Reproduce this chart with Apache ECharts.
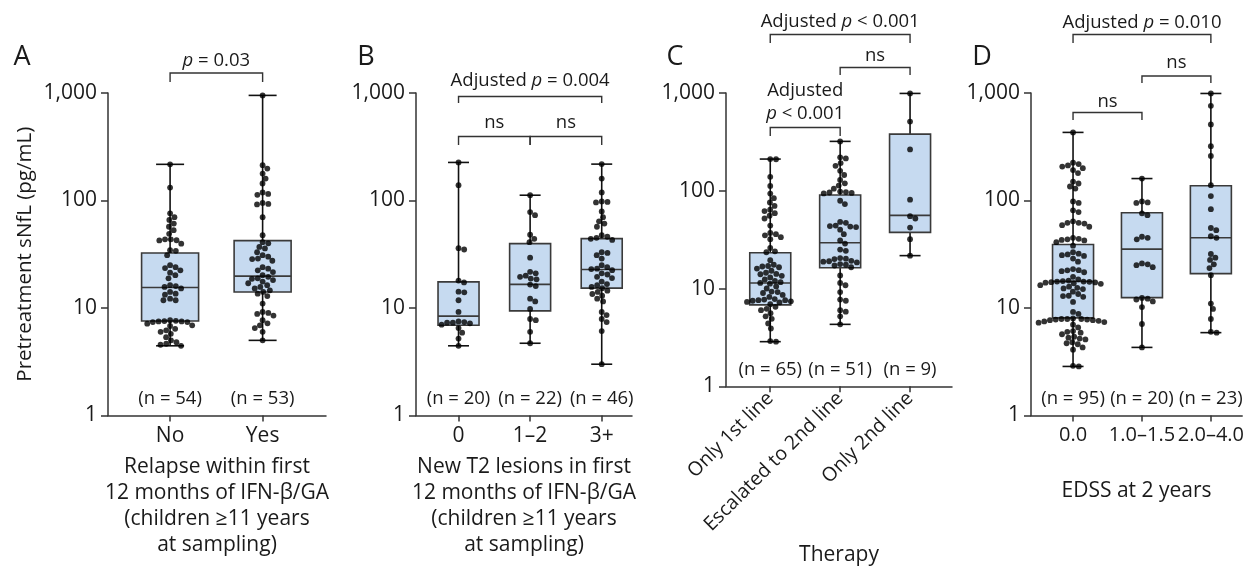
<!DOCTYPE html>
<html><head><meta charset="utf-8">
<script src="https://cdn.jsdelivr.net/npm/echarts@6/dist/echarts.min.js"></script>
<style>html,body{margin:0;padding:0;background:#fff}#c{width:1247px;height:573px}</style>
</head><body><div id="c"></div>
<script>
// ---------------- data ----------------
const catsA = ['No', 'Yes'];
const catsB = ['0', '1–2', '3+'];
const catsC = ['Only 1st line', 'Escalated to 2nd line', 'Only 2nd line'];
const catsD = ['0.0', '1.0–1.5', '2.0–4.0'];

const nA = [54, 53];
const nB = [20, 22, 46];
const nC = [65, 51, 9];
const nD = [95, 20, 23];

// box stats: [whisker low, Q1, median, Q3, whisker high] (pg/mL)
const boxA = [[4.45, 7.56, 15.5, 32.5, 217], [5.0, 14.1, 19.8, 42.3, 950]];
const boxB = [[4.45, 6.9, 8.4, 17.5, 226], [4.7, 9.4, 16.6, 39.7, 112], [3.0, 15.3, 22.8, 44.2, 218]];
const boxC = [[2.86, 6.8, 11.4, 23.2, 211], [4.3, 16.3, 29.4, 90.5, 320], [21.7, 37.5, 56, 380, 990]];
const boxD = [[2.86, 8.1, 17.7, 39, 430], [4.3, 12.5, 35.3, 77, 160], [5.9, 20.9, 45, 137, 990]];

// individual sNfL values (pg/mL)
const ptsA_no = [217, 132, 76, 70, 66, 61, 57, 53, 49, 43.5, 43.5, 42.7, 42.5, 39.7, 34.5, 34, 31, 25, 24, 23.5, 22.4, 21.3, 20.2, 18.9, 16.3, 16, 15.7, 15.2, 14.1, 13.6, 13.3, 12.2, 11.8, 11.8, 7.7, 7.6, 7.55, 7.5, 7.5, 7.4, 7.4, 7.15, 6.9, 6.8, 6.4, 6.2, 6.0, 5.75, 5.35, 5.0, 4.8, 4.65, 4.55, 4.45];
const ptsA_yes = [950, 213, 198, 178, 160, 144, 119, 115, 113, 95, 93, 92, 70, 47.5, 41, 40, 37, 35.8, 33, 31, 30, 28.8, 28.5, 27.5, 24, 23.2, 22.4, 21.6, 20.2, 19.5, 18.9, 18.7, 18.2, 17.6, 17, 16.3, 15.7, 15.2, 14.6, 14.1, 13.6, 12.9, 11, 9.2, 9, 8.8, 8.5, 7.7, 7.2, 6.9, 6.5, 6.0, 5.0];
const ptsB_0 = [226, 139, 36, 35, 18, 17.3, 14.2, 14, 11.8, 9.2, 7.5, 7.4, 7.3, 7.3, 7.2, 7.0, 6.5, 5.9, 5.2, 4.45];
const ptsB_12 = [112, 78, 73, 48, 44, 41, 29.4, 21.7, 21, 20, 19.5, 18.8, 18.5, 16.5, 16, 12.2, 11.5, 9.8, 7.9, 7.7, 6.0, 4.7];
const ptsB_3 = [218, 160, 119, 98, 97, 96, 79, 70, 64, 61, 57, 47.5, 46, 45, 44, 43, 33, 32.5, 31, 28.8, 25, 24, 23.2, 23, 22.5, 21, 20.5, 19.5, 19, 17.6, 16.7, 16.3, 15.7, 15.3, 14.5, 14.1, 13.5, 13, 12.2, 11.5, 9.2, 8.6, 7.9, 7.4, 6.1, 3.0];
const ptsC_1st = [211, 210, 139, 112, 93.5, 84, 76, 70, 64, 62, 59, 55.5, 52, 44, 37, 36, 35, 33.5, 32, 26, 24, 23.5, 19.5, 17.5, 17, 16.8, 16.5, 16, 15.2, 14.5, 14.1, 14, 13.5, 13, 12.4, 12, 11.6, 11.4, 11.2, 10.5, 10, 9.3, 9.2, 9.0, 8.6, 8.2, 7.8, 7.7, 7.6, 7.6, 7.5, 7.4, 7.3, 7.2, 6.9, 6.5, 6.2, 6.0, 5.6, 5.2, 4.9, 4.4, 3.9, 2.9, 2.86];
const ptsC_esc = [320, 220, 214, 192, 180, 160, 145, 129, 119, 113, 105, 98, 97, 96, 95, 94, 79, 73, 48, 47, 44, 43.5, 43, 42.5, 40, 36, 31, 28.8, 25, 24.3, 20.5, 20.2, 20, 19.2, 19, 18.8, 18.5, 17.8, 17.5, 17.2, 16.5, 13.6, 11.4, 10.8, 9.2, 7.7, 7.5, 6.0, 5.8, 5.2, 4.3];
const ptsC_2nd = [990, 510, 265, 81, 55, 52, 42, 32, 21.7];
const ptsD_0 = [430, 225, 218, 212, 207, 200, 192, 180, 150, 144, 135, 129, 98, 95, 81, 78, 64, 62, 62, 61, 59, 57, 45, 44, 43.5, 43, 42.5, 41, 38, 33, 32, 31.5, 31, 30.5, 28.8, 27, 23, 22.5, 22.4, 22, 21.5, 19.5, 18.5, 18, 17.8, 17.6, 17.6, 17.5, 17.4, 17.3, 17.2, 17, 16.8, 16.3, 15.8, 15.4, 15.2, 15, 14.2, 13.5, 13, 12.9, 12.7, 11.4, 9.2, 8.8, 8.0, 7.9, 7.9, 7.9, 7.8, 7.8, 7.7, 7.7, 7.6, 7.5, 7.4, 7.3, 7.0, 6.6, 6.1, 6.0, 5.9, 5.7, 5.4, 5.3, 5.2, 5.1, 4.8, 4.7, 4.6, 4.3, 4.1, 2.9, 2.86];
const ptsD_1 = [160, 98, 96, 95, 76, 73, 46, 45, 43.5, 26, 25.5, 25, 24, 12.4, 12.2, 12.0, 11.5, 10.2, 7.1, 4.3];
const ptsD_2 = [990, 760, 510, 320, 260, 139, 110, 83, 55.5, 53, 46.5, 45, 31.8, 29.4, 28, 25.5, 23.5, 20.2, 11, 9.8, 7.9, 6.0, 5.9];

// significance annotations (group indices + label)
const sigA = [{ from: 0, to: 1, text: '{i|p} = 0.03' }];
const sigB = [{ from: 0, to: 2, text: 'Adjusted {i|p} = 0.004' }, { from: 0, to: 1, text: 'ns' }, { from: 1, to: 2, text: 'ns' }];
const sigC = [{ from: 0, to: 2, text: 'Adjusted {i|p} < 0.001' }, { from: 1, to: 2, text: 'ns' }, { from: 0, to: 1, text: 'Adjusted\n{i|p} < 0.001' }];
const sigD = [{ from: 0, to: 2, text: 'Adjusted {i|p} = 0.010' }, { from: 1, to: 2, text: 'ns' }, { from: 0, to: 1, text: 'ns' }];

// ---------------- layout / style ----------------
const FONT = 'Open Sans';
const INK = '#1a1a1a';
const AX = '#333333';
const BOXFILL = '#c6daf0';
const BOXLINE = '#3a3a3a';

const panels = [
  { letter: 'A', letterXY: [22, 57], cats: catsA, n: nA, box: boxA, pts: [ptsA_no, ptsA_yes], sig: sigA,
    grid: { left: 108, right: 921, top: 93, bottom: 157.5 }, xmin: -0.671, xmax: 1.685, boxHalf: 28.5, capHalf: 14,
    xName: 'Relapse within first\n12 months of IFN-β/GA\n(children ≥11 years\nat sampling)', nameGap: 39, rotate: 0, labelSize: 21,
    sigPos: [{ lineY: 73, legY: 82, textY: 61 }] },
  { letter: 'B', letterXY: [366, 57], cats: catsB, n: nB, box: boxB, pts: [ptsB_0, ptsB_12, ptsB_3], sig: sigB,
    grid: { left: 416, right: 615, top: 93, bottom: 157.5 }, xmin: -0.594, xmax: 2.423, boxHalf: 20.5, capHalf: 10.5,
    xName: 'New T2 lesions in first\n12 months of IFN-β/GA\n(children ≥11 years\nat sampling)', nameGap: 39, rotate: 0, labelSize: 21,
    sigPos: [{ lineY: 96.5, legY: 103, textY: 81 }, { lineY: 136.5, legY: 145, textY: 123 }, { lineY: 136.5, legY: 145, textY: 123 }] },
  { letter: 'C', letterXY: [675, 57], cats: catsC, n: nC, box: boxC, pts: [ptsC_1st, ptsC_esc, ptsC_2nd], sig: sigC,
    grid: { left: 726, right: 295, top: 93, bottom: 157.5 }, xmin: -0.633, xmax: 2.6, boxHalf: 20.5, capHalf: 10.5,
    xName: 'Therapy', nameGap: 130, rotate: 45, labelSize: 19.5,
    sigPos: [{ lineY: 34.5, legY: 43, textY: 21.5 }, { lineY: 67.5, legY: 75, textY: 56 }, { lineY: 127.5, legY: 136, textY: 102.5 }] },
  { letter: 'D', letterXY: [982, 57], cats: catsD, n: nD, box: boxD, pts: [ptsD_0, ptsD_1, ptsD_2], sig: sigD,
    grid: { left: 1031, right: 1, top: 93, bottom: 157.5 }, xmin: -0.61, xmax: 2.454, boxHalf: 20.5, capHalf: 10.5,
    xName: 'EDSS at 2 years', nameGap: 63, rotate: 0, labelSize: 20,
    sigPos: [{ lineY: 34.5, legY: 43, textY: 22.5 }, { lineY: 76, legY: 83, textY: 63 }, { lineY: 112.5, legY: 120, textY: 102 }] }
];

const chart = echarts.init(document.getElementById('c'), null, { renderer: 'canvas' });

const grids = [], xAxes = [], yAxes = [], series = [], graphics = [];
panels.forEach((p, k) => {
  grids.push(Object.assign({ containLabel: false }, p.grid));
  const idx = p.cats.map((c, i) => i);
  xAxes.push({
    type: 'value', gridIndex: k, min: p.xmin, max: p.xmax,
    axisLine: { show: true, onZero: false, lineStyle: { color: AX, width: 1.5 } },
    axisTick: { show: true, customValues: idx, length: 6, lineStyle: { color: AX, width: 1.5 } },
    axisLabel: { show: true, customValues: idx, formatter: v => p.cats[Math.round(v)], fontSize: p.labelSize,
      fontFamily: FONT, color: INK, margin: p.rotate ? 9 : 10, rotate: p.rotate, hideOverlap: false,
      showMinLabel: true, showMaxLabel: true },
    splitLine: { show: false },
    name: p.xName, nameLocation: 'middle', nameGap: p.nameGap,
    nameTextStyle: { fontSize: 21, fontFamily: FONT, color: INK, lineHeight: 26 }
  });
  yAxes.push({
    type: 'log', logBase: 10, gridIndex: k, min: 1, max: 1000,
    axisLine: { show: true, onZero: false, lineStyle: { color: AX, width: 1.5 } },
    axisTick: { show: true, length: 7, lineStyle: { color: AX, width: 1.5 } },
    minorTick: { show: false },
    axisLabel: { fontSize: 21, fontFamily: FONT, color: INK, margin: 11, formatter: v => Number(v).toLocaleString('en-US') },
    splitLine: { show: false },
    name: k === 0 ? 'Pretreatment sNfL (pg/mL)' : '', nameLocation: 'middle', nameGap: 72,
    nameTextStyle: { fontSize: 20.5, fontFamily: FONT, color: INK }
  });
  // boxes + whiskers + n labels
  series.push({
    type: 'custom', xAxisIndex: k, yAxisIndex: k, z: 2, silent: true,
    data: p.box.map((b, i) => [i].concat(b)),
    encode: { x: 0, y: [1, 2, 3, 4, 5] },
    renderItem: (params, api) => {
      const g = api.value(0);
      const xc = api.coord([g, 10])[0];
      const y = [1, 2, 3, 4, 5].map(d => api.coord([g, api.value(d)])[1]);
      const bh = p.boxHalf, ch = p.capHalf;
      const lw = { stroke: '#111', lineWidth: 1.6 };
      const base = api.coord([g, 1])[1];
      return { type: 'group', children: [
        { type: 'line', shape: { x1: xc, y1: y[0], x2: xc, y2: y[1] }, style: lw },
        { type: 'line', shape: { x1: xc, y1: y[3], x2: xc, y2: y[4] }, style: lw },
        { type: 'line', shape: { x1: xc - ch, y1: y[0], x2: xc + ch, y2: y[0] }, style: lw },
        { type: 'line', shape: { x1: xc - ch, y1: y[4], x2: xc + ch, y2: y[4] }, style: lw },
        { type: 'rect', shape: { x: xc - bh, y: y[3], width: 2 * bh, height: y[1] - y[3] },
          style: { fill: BOXFILL, stroke: BOXLINE, lineWidth: 1.6 } },
        { type: 'line', shape: { x1: xc - bh, y1: y[2], x2: xc + bh, y2: y[2] }, style: { stroke: BOXLINE, lineWidth: 1.6 } },
        { type: 'text', style: { text: '(n = ' + p.n[params.dataIndex] + ')', x: xc, y: base - 17,
          align: 'center', verticalAlign: 'middle', fontSize: 18.5, fontFamily: FONT, fill: INK } }
      ] };
    }
  });
  // significance brackets
  series.push({
    type: 'custom', xAxisIndex: k, yAxisIndex: k, z: 4, silent: true,
    data: p.sig.map(s => [s.from, s.to, 10]),
    encode: { x: [0, 1], y: 2 },
    renderItem: (params, api) => {
      const s = p.sig[params.dataIndex], pos = p.sigPos[params.dataIndex];
      const x0 = api.coord([api.value(0), 10])[0], x1 = api.coord([api.value(1), 10])[0];
      return { type: 'group', children: [
        { type: 'polyline', shape: { points: [[x0, pos.legY], [x0, pos.lineY], [x1, pos.lineY], [x1, pos.legY]] },
          style: { stroke: AX, lineWidth: 1.4, fill: null } },
        { type: 'text', style: { text: s.text, x: (x0 + x1) / 2, y: pos.textY, align: 'center', verticalAlign: 'middle',
          fontSize: 18.5, fontFamily: FONT, fill: INK, lineHeight: 23,
          rich: { i: { fontStyle: 'italic', fontSize: 18.5, fontFamily: FONT, fill: INK, lineHeight: 23 } } } }
      ] };
    }
  });
  // points (x offsets set after layout by a beeswarm pass)
  series.push({
    id: 'pts' + k, type: 'scatter', xAxisIndex: k, yAxisIndex: k, z: 5, silent: true,
    symbol: 'circle', symbolSize: 5.8, itemStyle: { color: '#000' },
    data: []
  });
  graphics.push({ type: 'text', x: p.letterXY[0], y: p.letterXY[1],
    style: { text: p.letter, fontSize: 27, fontFamily: FONT, fill: INK, align: 'center', verticalAlign: 'middle' } });
});

chart.setOption({
  animation: false,
  textStyle: { fontFamily: FONT },
  grid: grids, xAxis: xAxes, yAxis: yAxes, series: series, graphic: graphics
});

// beeswarm horizontal spreading, computed in pixel space from the library's scales
function beeswarm(pys, D) {
  const order = pys.map((y, i) => i).sort((a, b) => pys[a] - pys[b]);
  const placed = [], dx = new Array(pys.length);
  for (const i of order) {
    const y = pys[i];
    const near = placed.filter(q => Math.abs(q.y - y) < D);
    const cands = [0];
    near.forEach(q => { const h = Math.sqrt(D * D - (q.y - y) * (q.y - y)); cands.push(q.x + h, q.x - h); });
    cands.sort((a, b) => Math.abs(a) - Math.abs(b) || b - a);
    let chosen = 0;
    for (const c of cands) {
      if (near.every(q => (q.x - c) * (q.x - c) + (q.y - y) * (q.y - y) >= D * D - 1e-6)) { chosen = c; break; }
    }
    placed.push({ x: chosen, y: y });
    dx[i] = chosen;
  }
  return dx;
}

const upd = panels.map((p, k) => {
  const data = [];
  p.pts.forEach((vals, g) => {
    const a = chart.convertToPixel({ gridIndex: k }, [g, 10]);
    const b = chart.convertToPixel({ gridIndex: k }, [g + 1, 10]);
    const ppu = b[0] - a[0];
    const pys = vals.map(v => chart.convertToPixel({ gridIndex: k }, [g, v])[1]);
    const dx = beeswarm(pys, 5.8);
    vals.forEach((v, i) => data.push([g + dx[i] / ppu, v]));
  });
  return { id: 'pts' + k, data: data };
});
chart.setOption({ series: upd });
</script></body></html>
